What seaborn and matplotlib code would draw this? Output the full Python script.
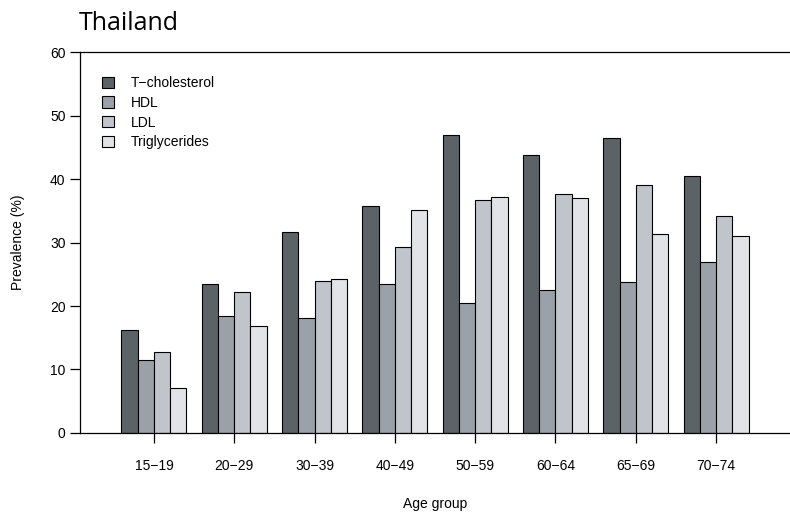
import matplotlib
matplotlib.use("Agg")
import matplotlib.pyplot as plt
import seaborn as sns
import pandas as pd

# ─── Data ─────────────────────────────────────────────────────────────────────
age_groups = ["15\u221219", "20\u221229", "30\u221239", "40\u221249",
              "50\u221259", "60\u221264", "65\u221269", "70\u221274"]
series_names = ["T\u2212cholesterol", "HDL", "LDL", "Triglycerides"]
t_chol = [16.2, 23.5, 31.7, 35.8, 46.9, 43.8, 46.5, 40.5]
hdl    = [11.5, 18.4, 18.1, 23.5, 20.5, 22.5, 23.8, 26.9]
ldl    = [12.8, 22.2, 23.9, 29.3, 36.7, 37.6, 39.1, 34.2]
trig   = [7.1, 16.9, 24.3, 35.1, 37.2, 37.0, 31.3, 31.0]
colors = ["#5c6366", "#9ba1a8", "#c0c4cb", "#e2e3e7"]
y_ticks = [0, 10, 20, 30, 40, 50, 60]

rows = []
for name, vals in zip(series_names, [t_chol, hdl, ldl, trig]):
    for grp, v in zip(age_groups, vals):
        rows.append({"age": grp, "series": name, "value": v})
df = pd.DataFrame(rows)

# ─── Plot ─────────────────────────────────────────────────────────────────────
sns.set_style("ticks")
plt.rcParams["font.family"] = ["Liberation Sans", "DejaVu Sans"]

fig = plt.figure(figsize=(7.9, 5.14), dpi=100)
ax = fig.add_axes([0.1013, 0.1576, 0.8987, 0.7412])

sns.barplot(
    data=df, x="age", y="value", hue="series",
    order=age_groups, hue_order=series_names,
    palette=colors, width=0.81, gap=0,
    edgecolor="black", linewidth=0.8,
    saturation=1, errorbar=None, ax=ax,
)

ax.set_xlim(-0.92, 7.92)
ax.set_ylim(0, 60)
ax.set_yticks(y_ticks)
ax.tick_params(axis="both", direction="out", length=7, width=0.9,
               labelsize=10, colors="black")
ax.tick_params(axis="x", pad=12)
ax.set_xlabel("Age group", fontsize=10, labelpad=17, color="black")
ax.set_ylabel("Prevalence (%)", fontsize=10, labelpad=18, color="black")

for side in ["left", "top", "bottom"]:
    ax.spines[side].set_linewidth(0.9)
    ax.spines[side].set_color("black")
ax.spines["right"].set_visible(False)

leg = ax.legend(loc="upper left", bbox_to_anchor=(0.014, 0.97), frameon=False,
                fontsize=10, handlelength=0.85, handleheight=0.85,
                labelspacing=0.42, handletextpad=1.2)
for h in leg.legend_handles:
    h.set_edgecolor("black")
    h.set_linewidth(0.8)
for t in leg.get_texts():
    t.set_color("black")

fig.text(0.1, 0.955, "Thailand", fontsize=18, family="Open Sans",
         color="black", ha="left", va="center")

plt.savefig("out.png", dpi=100)
plt.close()
